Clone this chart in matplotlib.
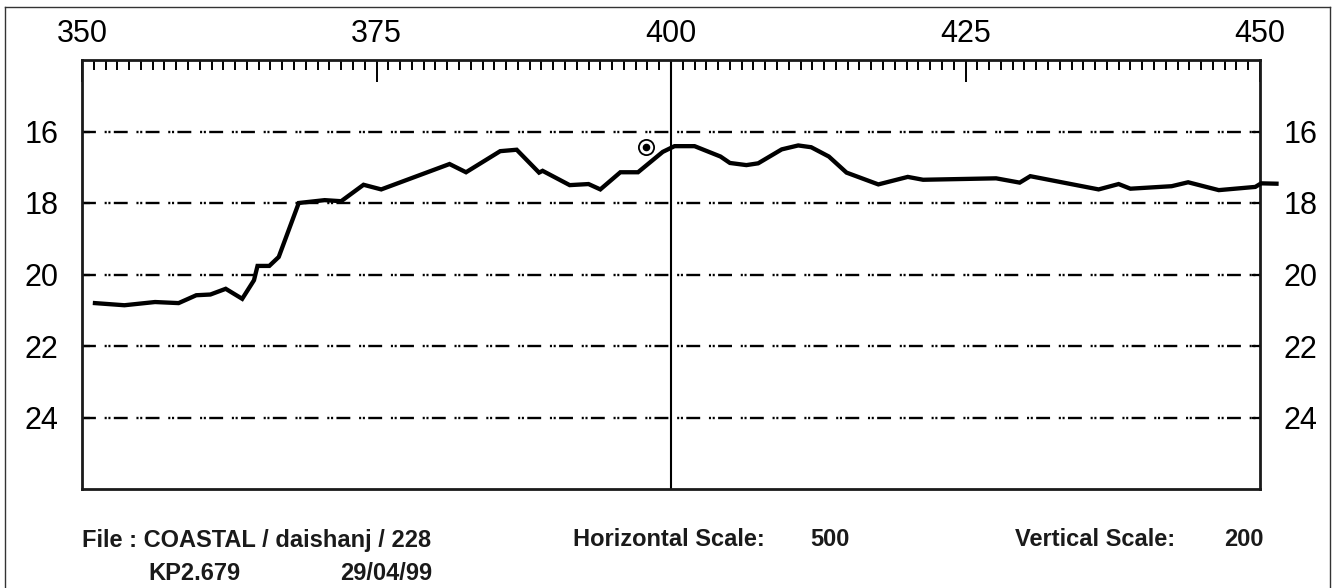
import matplotlib
matplotlib.use("Agg")
import matplotlib.pyplot as plt
from matplotlib.lines import Line2D
from matplotlib.ticker import MultipleLocator

# profile data (distance, depth)
dist = [351.1, 353.6, 356.2, 358.2, 359.7, 360.9, 362.2, 363.6, 364.6, 364.9,
        365.9, 366.7, 368.4, 370.6, 372.0, 373.9, 375.4, 381.2, 382.6, 385.5,
        386.9, 388.8, 389.1, 391.4, 393.0, 394.0, 395.7, 397.2, 399.3, 400.3,
        402.0, 404.2, 405.0, 406.4, 407.4, 409.4, 410.8, 411.9, 413.4, 414.9,
        417.6, 420.1, 421.4, 427.6, 429.6, 430.5, 436.3, 438.0, 439.0, 442.5,
        443.9, 446.5, 449.6, 450.1, 451.4]
depth = [20.80, 20.86, 20.77, 20.80, 20.58, 20.56, 20.40, 20.68, 20.16, 19.76,
         19.76, 19.51, 18.00, 17.92, 17.95, 17.49, 17.62, 16.91, 17.14, 16.55,
         16.51, 17.15, 17.10, 17.50, 17.47, 17.62, 17.14, 17.14, 16.57, 16.41,
         16.41, 16.70, 16.88, 16.94, 16.89, 16.50, 16.39, 16.44, 16.70, 17.15,
         17.48, 17.27, 17.35, 17.31, 17.43, 17.25, 17.62, 17.47, 17.60, 17.53,
         17.42, 17.64, 17.55, 17.45, 17.46]

fix_x = [397.9]
fix_y = [16.44]

xticks = [350, 375, 400, 425, 450]
yticks = [16, 18, 20, 22, 24]
center_x = 400

W, H = 1337, 588
plt.rcParams['lines.scale_dashes'] = False
plt.rcParams['font.family'] = ['Liberation Sans', 'DejaVu Sans']

fig = plt.figure(figsize=(W / 100, H / 100), dpi=100)
ax = fig.add_axes([82 / W, 1 - 489 / H, (1260 - 82) / W, (489 - 60) / H])

ax.plot(dist, depth, color='black', lw=3.1, solid_joinstyle='miter', clip_on=False, zorder=3)
ax.axvline(center_x, color='black', lw=1.5, zorder=2)

# fix marker: circle with dot
ax.scatter(fix_x, fix_y, s=120, facecolors='white', edgecolors='black', linewidths=1.3, zorder=4)
ax.scatter(fix_x, fix_y, s=20, color='black', zorder=5)

ax.set_xlim(350, 450)
ax.set_ylim(26, 14)

ax.set_xticks(xticks)
ax.xaxis.set_minor_locator(MultipleLocator(1))
ax.set_yticks(yticks)
ax.set_yticklabels([str(v) for v in yticks])

ax.tick_params(axis='x', which='both', top=True, bottom=False, labeltop=True, labelbottom=False,
               direction='in', color='black')
ax.tick_params(axis='x', which='major', length=16, width=1.4, pad=8, labelsize=22)
ax.tick_params(axis='x', which='minor', length=7, width=1.4)
ax.tick_params(axis='y', which='major', left=True, right=True, labelleft=True, labelright=True,
               direction='in', length=6, width=1.6, labelsize=22)
ax.tick_params(axis='y', which='major', pad=17)

ax.grid(axis='y', color='black', lw=1.7, linestyle=(0, (10, 6.3, 1.5, 1.2, 1.5, 2.4)))

for sp in ax.spines.values():
    sp.set_linewidth(2.0)
    sp.set_color('#1a1a1a')

# outer frame of the sheet
fx0, fx1, fy0 = 5 / W, 1330 / W, 1 - 7 / H
for xs, ys in [([fx0, fx0], [0, fy0]), ([fx0, fx1], [fy0, fy0]), ([fx1, fx1], [fy0, 0])]:
    fig.add_artist(Line2D(xs, ys, transform=fig.transFigure, color='#333333', lw=1.0))

# footer text
foot = dict(fontsize=17, fontweight='bold', va='center', color='#1a1a1a',
            family=['Liberation Sans Narrow', 'Liberation Sans', 'DejaVu Sans'])
fig.text(82 / W, 1 - 540 / H, "File : COASTAL / daishanj / 228", ha='left', **foot)
fig.text(148 / W, 1 - 573 / H, "KP2.679", ha='left', **foot)
fig.text(432 / W, 1 - 573 / H, "29/04/99", ha='right', **foot)
fig.text(573 / W, 1 - 540 / H, "Horizontal Scale:", ha='left', **foot)
fig.text(810 / W, 1 - 540 / H, "500", ha='left', **foot)
fig.text(1015 / W, 1 - 540 / H, "Vertical Scale:", ha='left', **foot)
fig.text(1264 / W, 1 - 540 / H, "200", ha='right', **foot)

fig.savefig("out.png", dpi=100)
